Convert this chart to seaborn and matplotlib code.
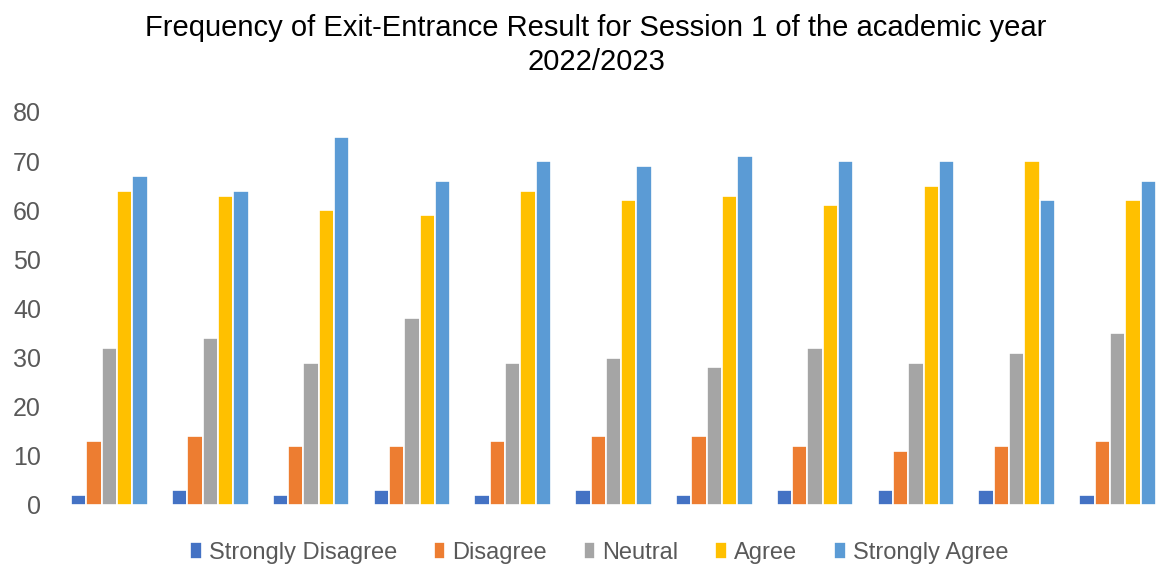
import matplotlib
matplotlib.use("Agg")
import matplotlib.pyplot as plt
import pandas as pd
import seaborn as sns

groups = [str(i) for i in range(1, 12)]
series = ["Strongly Disagree", "Disagree", "Neutral", "Agree", "Strongly Agree"]
strongly_disagree = [2, 3, 2, 3, 2, 3, 2, 3, 3, 3, 2]
disagree = [13, 14, 12, 12, 13, 14, 14, 12, 11, 12, 13]
neutral = [32, 34, 29, 38, 29, 30, 28, 32, 29, 31, 35]
agree = [64, 63, 60, 59, 64, 62, 63, 61, 65, 70, 62]
strongly_agree = [67, 64, 75, 66, 70, 69, 71, 70, 70, 62, 66]
colors = ["#4472C4", "#ED7D31", "#A5A5A5", "#FFC000", "#5B9BD5"]

values = [strongly_disagree, disagree, neutral, agree, strongly_agree]
rows = []
for name, vals in zip(series, values):
    for g, v in zip(groups, vals):
        rows.append({"group": g, "series": name, "value": v})
df = pd.DataFrame(rows)

sns.set_style("white")
plt.rcParams["font.family"] = ["Liberation Sans", "DejaVu Sans"]
text_color = "#595959"

fig = plt.figure(figsize=(11.57, 5.68), dpi=100)
# plot area runs slightly past the right edge, as in the reference crop
ax = fig.add_axes([59 / 1157, 1 - 505 / 568, (1168 - 59) / 1157, (505 - 112) / 568])

sns.barplot(
    data=df, x="group", y="value", hue="series", hue_order=series,
    palette=colors, width=0.76, edgecolor="white", linewidth=1.2,
    saturation=1, ax=ax, legend=True,
)

ax.set_ylim(0, 80)
ax.set_yticks(range(0, 81, 10))
ax.set_xlim(-0.5, 10.5)
ax.set_xticks([])
ax.set_xlabel("")
ax.set_ylabel("")
ax.tick_params(axis="y", labelsize=18, labelcolor=text_color, length=0, pad=13)
for s in ax.spines.values():
    s.set_visible(False)

fig.suptitle(
    "Frequency of Exit-Entrance Result for Session 1 of the academic year\n2022/2023",
    fontsize=21, color="black", y=0.975, x=596 / 1157, linespacing=1.28,
)

ax.get_legend().remove()
handles, labels = ax.get_legend_handles_labels()
fig.legend(
    handles[:5], labels[:5], loc="center", bbox_to_anchor=(599 / 1157, 1 - 553 / 568),
    ncol=5, frameon=False, fontsize=17, handlelength=0.5, handleheight=0.75,
    handletextpad=0.3, columnspacing=1.55, labelcolor=text_color,
)

fig.savefig("out.png", dpi=100)
